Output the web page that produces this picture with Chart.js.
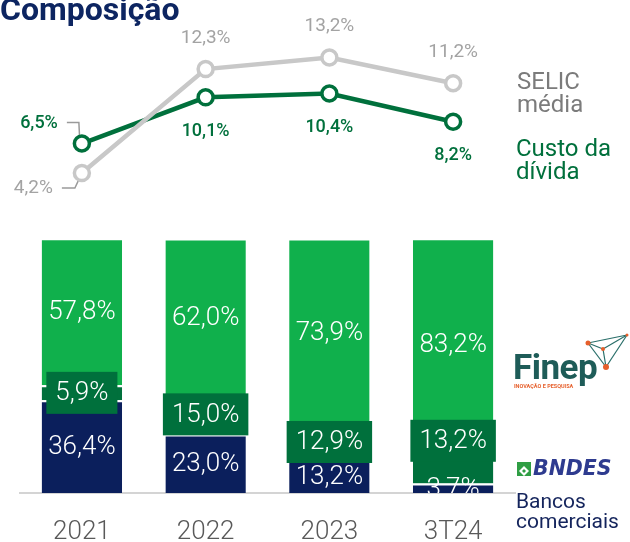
<!DOCTYPE html>
<html lang="pt-BR">
<head>
<meta charset="utf-8">
<script src="https://cdn.jsdelivr.net/npm/chart.js@4"></script>
<style>
  html, body { margin: 0; padding: 0; background: #fff; }
  #wrap { position: relative; width: 630px; height: 542px; overflow: hidden; font-family: Roboto, sans-serif; }
  #chart { position: absolute; left: 0; top: 0; }
  .txt { position: absolute; white-space: nowrap; }
  #title { left: 0; top: -7px; font-size: 32px; line-height: 32px; font-weight: 700; color: #0d2561; }
  .legend { font-size: 24px; line-height: 23px; }
  #leg-selic { left: 517px; top: 70px; color: #7b7b7b; }
  #leg-custo { left: 516px; top: 137px; color: #00703c; }
  #finep { left: 513px; top: 350px; font-size: 35px; line-height: 35px; font-weight: 700; color: #1e5c58; letter-spacing: -0.5px; }
  #finep-sub { left: 514px; top: 383px; font-size: 5.5px; font-weight: 700; color: #e65f2b; }
  #bndes { left: 533px; top: 458px; font-family: "DejaVu Sans", sans-serif; font-size: 20.5px; line-height: 21px; font-weight: 700; font-style: italic; color: #2e3b8f; }
  #bancos { left: 516px; top: 491px; font-size: 21px; line-height: 20px; color: #14245c; }
  svg { position: absolute; }
</style>
</head>
<body>
<div id="wrap">
  <canvas id="chart" width="630" height="542"></canvas>
  <div class="txt" id="title">Composição</div>
  <div class="txt legend" id="leg-selic">SELIC<br>média</div>
  <div class="txt legend" id="leg-custo">Custo da<br>dívida</div>
  <div class="txt" id="finep">Finep</div>
  <div class="txt" id="finep-sub">INOVAÇÃO E PESQUISA</div>
  <svg style="left:580px;top:330px" width="50" height="42" viewBox="580 330 50 42">
    <g stroke="#2a6f6a" stroke-width="1.2" fill="none">
      <line x1="588" y1="343" x2="627" y2="335"/>
      <line x1="588" y1="343" x2="606" y2="367"/>
      <line x1="627" y1="335" x2="606" y2="367"/>
      <line x1="588" y1="343" x2="603" y2="349"/>
      <line x1="603" y1="349" x2="606" y2="367"/>
      <line x1="603" y1="349" x2="627" y2="335"/>
    </g>
    <g fill="#e65f2b">
      <circle cx="588" cy="343" r="2.5"/>
      <circle cx="603" cy="349" r="2"/>
      <circle cx="606" cy="367" r="3"/>
      <circle cx="627" cy="335" r="1.5"/>
    </g>
  </svg>
  <svg style="left:517px;top:462px" width="14" height="14" viewBox="0 0 14 14">
    <rect x="0" y="0" width="14" height="14" fill="#2f9e44"/>
    <path d="M2 9 L7 4 L12 9 L7 14 Z" fill="#fff"/>
    <path d="M5 9 L7 7 L9 9 L7 11 Z" fill="#2f9e44"/>
  </svg>
  <div class="txt" id="bndes">BNDES</div>
  <div class="txt" id="bancos">Bancos<br>comerciais</div>
</div>
<script>
const categories = ["2021", "2022", "2023", "3T24"];
const selic = [4.2, 12.3, 13.2, 11.2];
const custoDivida = [6.5, 10.1, 10.4, 8.2];
const bancosComerciais = [36.4, 23.0, 13.2, 3.7];
const bndes = [5.9, 15.0, 12.9, 13.2];
const finep = [57.8, 62.0, 73.9, 83.2];

const NAVY = "#0b1f5c";
const GREEN = "#10b04c";
const DARK_GREEN = "#00703c";
const GRAY = "#c8c8c8";

function fmt(v) {
  return v.toFixed(1).replace(".", ",") + "%";
}

// rótulos das barras e das linhas
const labelPlugin = {
  id: "labels",
  beforeDatasetsDraw(chart) {
    const ctx = chart.ctx;
    const s = chart.getDatasetMeta(0).data[0];
    const c = chart.getDatasetMeta(1).data[0];
    ctx.save();
    ctx.strokeStyle = "#9a9a9a";
    ctx.lineWidth = 1.5;
    ctx.beginPath();
    ctx.moveTo(s.x - 20, s.y + 15);
    ctx.lineTo(s.x - 7, s.y + 15);
    ctx.lineTo(s.x, s.y);
    ctx.moveTo(c.x - 15, c.y - 21);
    ctx.lineTo(c.x - 3, c.y - 21);
    ctx.lineTo(c.x - 2, c.y);
    ctx.stroke();
    ctx.restore();
  },
  afterDatasetsDraw(chart, args, opts) {
    const ctx = chart.ctx;
    const area = chart.chartArea;
    ctx.save();
    ctx.textAlign = "center";
    ctx.textBaseline = "middle";
    ctx.font = "300 26px Roboto";

    const navyMeta = chart.getDatasetMeta(2);
    const bndesMeta = chart.getDatasetMeta(3);
    const finepMeta = chart.getDatasetMeta(4);

    ctx.save();
    ctx.beginPath();
    ctx.rect(area.left, area.top, area.right - area.left, area.bottom - area.top);
    ctx.clip();
    ctx.fillStyle = "#fff";
    finepMeta.data.forEach((bar, i) => {
      ctx.fillText(fmt(finep[i]), bar.x, (bar.y + bar.base) / 2 + 1);
    });
    navyMeta.data.forEach((bar, i) => {
      ctx.fillText(fmt(bancosComerciais[i]), bar.x, (bar.y + bar.base) / 2 + 1);
    });
    ctx.restore();

    bndesMeta.data.forEach((bar, i) => {
      const text = fmt(bndes[i]);
      const w = ctx.measureText(text).width + 18;
      const cy = (bar.y + bar.base) / 2 + opts.boxShift[i];
      ctx.fillStyle = DARK_GREEN;
      ctx.fillRect(bar.x - w / 2, cy - 21, w, 42);
      ctx.fillStyle = "#fff";
      ctx.fillText(text, bar.x, cy + 1);
    });

    const selMeta = chart.getDatasetMeta(0);
    const cusMeta = chart.getDatasetMeta(1);
    ctx.font = "400 19px Roboto";
    ctx.fillStyle = "#a3a3a3";
    selMeta.data.forEach((p, i) => {
      if (i === 0) {
        ctx.textAlign = "right";
        ctx.fillText(fmt(selic[i]), p.x - 29, p.y + 15);
        ctx.textAlign = "center";
      } else {
        ctx.fillText(fmt(selic[i]), p.x, p.y - 31);
      }
    });
    ctx.font = "500 18px Roboto";
    ctx.fillStyle = DARK_GREEN;
    cusMeta.data.forEach((p, i) => {
      if (i === 0) {
        ctx.textAlign = "right";
        ctx.fillText(fmt(custoDivida[i]), p.x - 24, p.y - 20);
        ctx.textAlign = "center";
      } else {
        ctx.fillText(fmt(custoDivida[i]), p.x, p.y + 34);
      }
    });
    ctx.restore();
  }
};

const barStyle = {
  type: "bar",
  yAxisID: "yBar",
  stack: "divida",
  borderColor: "#fff",
  borderWidth: { top: 2, left: 0, right: 0, bottom: 0 },
  borderSkipped: false,
  barPercentage: 0.65,
  categoryPercentage: 1,
  order: 5
};

const lineStyle = {
  type: "line",
  yAxisID: "yLine",
  borderWidth: 4.5,
  pointRadius: 7.5,
  pointBorderWidth: 3.5,
  pointBackgroundColor: "#fff",
  tension: 0
};

new Chart(document.getElementById("chart"), {
  data: {
    labels: categories,
    datasets: [
      { ...lineStyle, label: "SELIC média", data: selic, borderColor: GRAY, pointBorderColor: GRAY, order: 0 },
      { ...lineStyle, label: "Custo da dívida", data: custoDivida, borderColor: DARK_GREEN, pointBorderColor: DARK_GREEN, order: 1 },
      { ...barStyle, label: "Bancos comerciais", data: bancosComerciais, backgroundColor: NAVY },
      { ...barStyle, label: "BNDES", data: bndes, backgroundColor: DARK_GREEN },
      { ...barStyle, label: "Finep", data: finep, backgroundColor: GREEN }
    ]
  },
  options: {
    responsive: false,
    animation: false,
    devicePixelRatio: 1,
    layout: { autoPadding: false, padding: { left: 20, right: 115, top: 0, bottom: 0 } },
    plugins: {
      legend: { display: false },
      tooltip: { enabled: false },
      labels: { boxShift: [0, -1, -1, -26] }
    },
    scales: {
      x: {
        stacked: true,
        offset: true,
        grid: { display: false, drawTicks: false },
        border: { display: true, color: "#d4d4d4", width: 2 },
        ticks: { font: { family: "Roboto", size: 26, weight: "300" }, color: "#595959", padding: 24 },
        afterFit(scale) { scale.height = 49; }
      },
      yLine: { display: false, min: -20.72, max: 17.68 },
      yBar: { display: false, stacked: true, min: 0, max: 193.7 }
    }
  },
  plugins: [labelPlugin]
});
</script>
</body>
</html>
